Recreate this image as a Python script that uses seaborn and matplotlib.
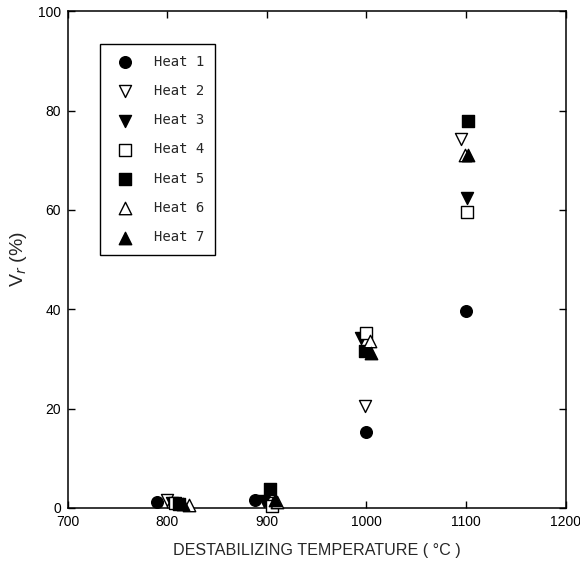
import matplotlib
matplotlib.use('Agg')
import matplotlib.pyplot as plt
import pandas as pd
import seaborn as sns

# Destabilizing temperature (C) and retained volume fraction Vr (%) for each heat
heat_labels = ['Heat 1', 'Heat 2', 'Heat 3', 'Heat 4', 'Heat 5', 'Heat 6', 'Heat 7']

heat_1_t = [790, 888, 1000, 1100]
heat_1_v = [1.2, 1.5, 15.2, 39.7]
heat_2_t = [800, 900, 999, 1095]
heat_2_v = [1.5, 1.0, 20.5, 74.3]
heat_3_t = [805, 897, 995, 1101]
heat_3_v = [1.0, 1.3, 34.3, 62.4]
heat_4_t = [808, 905, 1000, 1101]
heat_4_v = [1.0, 0.3, 35.3, 59.5]
heat_5_t = [812, 903, 999, 1102]
heat_5_v = [0.8, 3.8, 31.6, 78.0]
heat_6_t = [822, 910, 1004, 1099]
heat_6_v = [0.6, 1.2, 33.6, 71.0]
heat_7_t = [816, 908, 1005, 1102]
heat_7_v = [0.8, 1.5, 31.2, 71.0]

x_ticks = [700, 800, 900, 1000, 1100, 1200]
y_ticks = [0, 20, 40, 60, 80, 100]

temps = [heat_1_t, heat_2_t, heat_3_t, heat_4_t, heat_5_t, heat_6_t, heat_7_t]
vals = [heat_1_v, heat_2_v, heat_3_v, heat_4_v, heat_5_v, heat_6_v, heat_7_v]

frames = []
for lab, t, v in zip(heat_labels, temps, vals):
    frames.append(pd.DataFrame({'temp': t, 'vr': v, 'heat': lab}))
df = pd.concat(frames, ignore_index=True)

# marker and fill per heat
markers = ['o', 'v', 'v', 's', 's', '^', '^']
filled = [True, False, True, False, True, False, True]
sizes = [70, 75, 75, 70, 70, 80, 80]

sns.set_style('ticks')
plt.rcParams['font.family'] = ['Liberation Sans', 'DejaVu Sans']

fig = plt.figure(figsize=(5.8, 5.63), dpi=100)
ax = fig.add_axes([0.117, 0.098, 0.858, 0.882])

for lab, m, f, s in zip(heat_labels, markers, filled, sizes):
    sub = df[df['heat'] == lab]
    sns.scatterplot(data=sub, x='temp', y='vr', ax=ax, marker=m, s=s,
                    color='black' if f else 'white', edgecolor='black',
                    linewidth=1.0, label=lab, zorder=3, clip_on=False)

ax.set_xlim(700, 1200)
ax.set_ylim(0, 100)
ax.set_xticks(x_ticks)
ax.set_yticks(y_ticks)
ax.tick_params(direction='in', length=5, width=1, top=True, right=True,
               labelsize=10, colors='black', pad=5)
for sp in ax.spines.values():
    sp.set_linewidth(1.1)
    sp.set_color('black')

ax.set_xlabel('DESTABILIZING TEMPERATURE ( °C )', fontsize=11.6, labelpad=10)
ax.set_ylabel(r'V$_r$ (%)', fontsize=14, labelpad=6)

leg = ax.legend(loc='upper left', bbox_to_anchor=(0.064, 0.935), frameon=True,
                fancybox=False, edgecolor='black', framealpha=1,
                prop={'family': 'DejaVu Sans Mono', 'size': 10},
                labelspacing=1.1, handletextpad=1.1, borderpad=0.8,
                borderaxespad=0, markerscale=1.0)
leg.get_frame().set_linewidth(1.0)

fig.savefig('out.png', dpi=100)
